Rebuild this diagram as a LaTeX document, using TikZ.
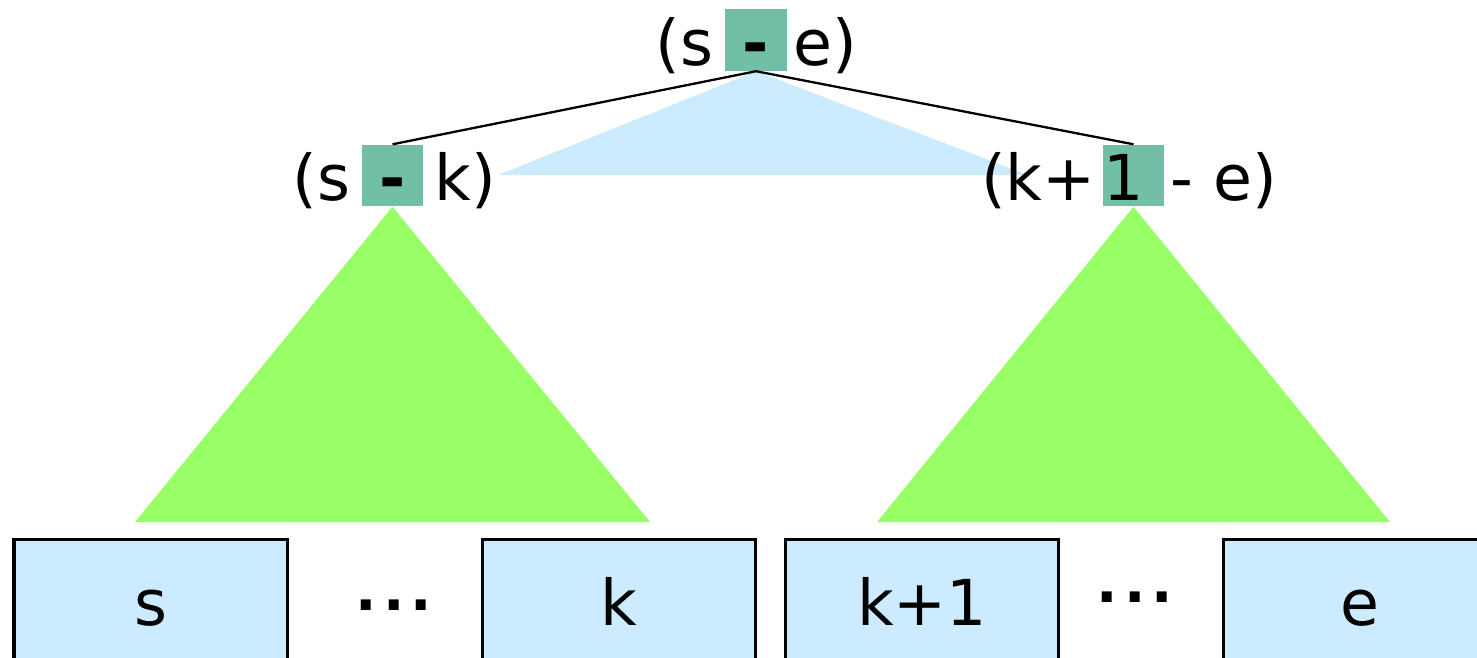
\documentclass[tikz,border=0pt]{standalone}
\usepackage{fontspec}
\setmainfont{DejaVu Sans}
\usetikzlibrary{positioning}
\definecolor{cellblue}{RGB}{204,235,255}
\definecolor{treegreen}{RGB}{153,255,102}
\definecolor{splitgreen}{RGB}{112,191,166}

\begin{document}
\begin{tikzpicture}[x=0.01cm,y=-0.01cm,
  hl/.style={fill=splitgreen,minimum width=6.1mm,minimum height=6.1mm,
    inner sep=0pt,text height=5mm,text depth=0pt,font=\fontsize{18}{20}\selectfont},
  txt/.style={inner sep=0pt,font=\fontsize{18}{20}\selectfont},
  cell/.style={draw,line width=.9pt,fill=cellblue,minimum width=27.3mm,
    inner sep=0pt,text height=8.6mm,text depth=10mm,anchor=north,
    font=\fontsize{18}{20}\selectfont},
  link/.style={line width=.65pt},
  dots/.style={inner sep=0pt,anchor=base,font=\fontsize{16}{20}\selectfont\bfseries}]
\useasboundingbox (0,0) rectangle (1477,657);
\clip (0,0) rectangle (1477,657);
% split points
\node[hl] (root) at (756,40) {\bfseries -};
\node[hl] (lsub) at (392.5,175.5) {\bfseries -};
\node[hl] (rsub) at (1133.5,175.5) {1\kern2mm};
% ranges
\fill[cellblue] (root.south) -- (498,175) -- (1028,175) -- cycle;
\fill[treegreen] (lsub.south) -- (135,522) -- (650,522) -- cycle;
\fill[treegreen] (rsub.south) -- (877,522) -- (1390,522) -- cycle;
\draw[link] (root.south) -- (lsub.north);
\draw[link] (root.south) -- (rsub.north);
% labels round the split points
\node[txt,anchor=base east] (rootl) at ([xshift=-1.1mm,yshift=-2.5mm]root.west) {(s};
\node[txt,anchor=base west] (rootr) at ([xshift=.6mm,yshift=-2.5mm]root.east) {e)};
\node[txt,anchor=base east] (lsubl) at ([xshift=-1mm,yshift=-2.5mm]lsub.west) {(s};
\node[txt,anchor=base west] (lsubr) at ([xshift=1mm,yshift=-2.5mm]lsub.east) {k)};
\node[txt,anchor=base east] (rsubl) at ([xshift=-.6mm,yshift=-2.5mm]rsub.west) {(k+};
\node[txt,anchor=base west] (rsubr) at ([xshift=.5mm,yshift=-2.5mm]rsub.east) {- e)};
% array cells
\node[cell] (cs) at (150.5,538) {s};
\node[cell] (ck) at (619,538) {k};
\node[cell] (ck1) at (922,538) {k+1};
\node[cell] (ce) at (1360,538) {e};
\node[dots] (ldots) at (394,610) {.\kern.6mm.\kern.6mm.};
\node[dots] (rdots) at (1135,602) {.\kern.6mm.\kern.6mm.};
\end{tikzpicture}
\end{document}
